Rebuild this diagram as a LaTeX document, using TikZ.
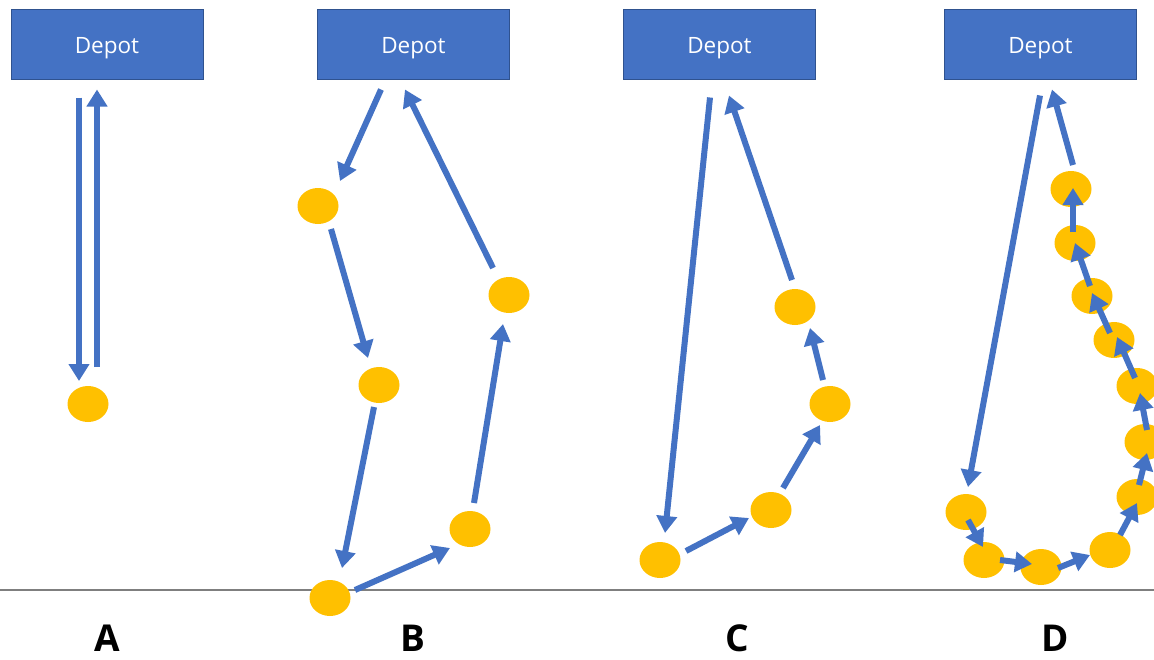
\documentclass[tikz,border=0pt]{standalone}
\usepackage{fontspec}
\setmainfont{Open Sans}
\usetikzlibrary{arrows.meta,calc,shapes.geometric}
\definecolor{depotblue}{HTML}{4472C4}
\definecolor{depotedge}{HTML}{2F528F}
\definecolor{stopgold}{HTML}{FFC000}
\definecolor{groundgray}{HTML}{7F7F7F}
\tikzset{
  depot/.style={rectangle, fill=depotblue, draw=depotedge, line width=1pt,
    minimum width=192pt, minimum height=70pt, inner sep=0pt,
    text height=18pt, text depth=0pt,
    text=white, font=\fontsize{22.5}{26}\selectfont},
  stop/.style={ellipse, fill=stopgold, draw=none, minimum width=41pt,
    minimum height=36pt, inner sep=0pt},
  arr/.style={draw=depotblue, line width=6pt,
    -{Triangle[width=20pt,length=17pt]}},
  caption/.style={font=\fontsize{37}{40}\selectfont\bfseries, text=black,
    inner sep=0pt}
}
\begin{document}
\begin{tikzpicture}[x=1pt,y=-1pt]
\useasboundingbox[fill=white] (0,0) rectangle (1154,659);

% ground line
\coordinate (gL) at (0,590);
\coordinate (gR) at (1154,590);
\draw[groundgray, line width=1.5pt] (gL) -- (gR);

% depots
\node[depot] (depA) at (107,44) {Depot};
\node[depot] (depB) at (413.5,44) {Depot};
\node[depot] (depC) at (719.5,44) {Depot};
\node[depot] (depD) at (1040.5,44) {Depot};

% stops
\node[stop] (nA) at (88,404) {};

\node[stop] (b1) at (318,206) {};
\node[stop] (b2) at (379,385) {};
\node[stop] (b3) at (330,598) {};
\node[stop] (b4) at (470,529) {};
\node[stop] (b5) at (509,295) {};

\node[stop] (c1) at (660,560) {};
\node[stop] (c2) at (771,510) {};
\node[stop] (c3) at (830,404) {};
\node[stop] (c4) at (795,307) {};

\node[stop] (d1) at (966,512) {};
\node[stop] (d2) at (984,560) {};
\node[stop] (d3) at (1041,567) {};
\node[stop] (d4) at (1110,550) {};
\node[stop] (d5) at (1137,497) {};
\node[stop] (d6) at (1145,442) {};
\node[stop] (d7) at (1137,386) {};
\node[stop] (d8) at (1114,340) {};
\node[stop] (d9) at (1092,296) {};
\node[stop] (d10) at (1075,243) {};
\node[stop] (d11) at (1071,189) {};

% route A
\draw[arr] ($(depA.south)+(-28,18)$) -- ($(nA)+(-9,-23)$);
\draw[arr] ($(nA)+(9,-37)$) -- ($(depA.south)+(-10,10)$);

% route B
\draw[arr] ($(depB.south)+(-32.5,10)$) -- ($(b1)+(22,-25)$);
\draw[arr] ($(b1)+(13,23)$) -- ($(b2)+(-11,-27)$);
\draw[arr] ($(b2)+(-5,22)$) -- ($(b3)+(12,-30)$);
\draw[arr] ($(b3)+(25,-8)$) -- ($(b4)+(-20,19)$);
\draw[arr] ($(b4)+(4,-26)$) -- ($(b5)+(-6,29)$);
\draw[arr] ($(b5)+(-16,-27)$) -- ($(depB.south)+(-8.5,10)$);

% route C
\draw[arr] ($(depC.south)+(-9.5,18)$) -- ($(c1)+(5,-27)$);
\draw[arr] ($(c1)+(26,-9)$) -- ($(c2)+(-22,8)$);
\draw[arr] ($(c2)+(12,-22)$) -- ($(c3)+(-10,21)$);
\draw[arr] ($(c3)+(-7,-24)$) -- ($(c4)+(15,21)$);
\draw[arr] ($(c4)+(-3,-27)$) -- ($(depC.south)+(9.5,16)$);

% route D
\draw[arr] ($(depD.south)+(-0.5,16)$) -- ($(d1)+(2,-25)$);
\draw[arr] ($(d1)+(2,8)$) -- ($(d2)+(-1,-13)$);
\draw[arr] ($(d2)+(16,0)$) -- ($(d3)+(-9,-3)$);
\draw[arr] ($(d3)+(17,1)$) -- ($(d4)+(-20,5)$);
\draw[arr] ($(d4)+(10,-15)$) -- ($(d5)+(0,6)$);
\draw[arr] ($(d5)+(2,-12)$) -- ($(d6)+(2,11)$);
\draw[arr] ($(d6)+(2,-12)$) -- ($(d7)+(3,7)$);
\draw[arr] ($(d7)+(-2,-8)$) -- ($(d8)+(3,-3)$);
\draw[arr] ($(d8)+(-4,-7)$) -- ($(d9)+(0,-3)$);
\draw[arr] ($(d9)+(-2,-10)$) -- ($(d10)+(0,0)$);
\draw[arr] ($(d10)+(-2,-11)$) -- ($(d11)+(2,-1)$);
\draw[arr] ($(d11)+(2,-24)$) -- ($(depD.south)+(11.5,10)$);

% captions
\node[caption] (labA) at (107,638) {A};
\node[caption] (labB) at (413,638) {B};
\node[caption] (labC) at (737,638) {C};
\node[caption] (labD) at (1055,638) {D};
\end{tikzpicture}
\end{document}
